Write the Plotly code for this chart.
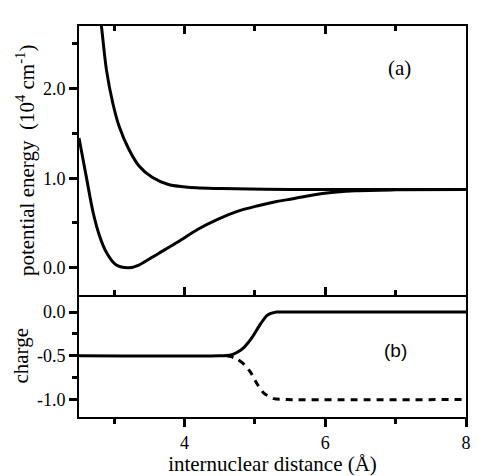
import plotly.graph_objects as go

# ---- data ----
upper_x = [2.78, 2.82, 2.89, 2.98, 3.07, 3.21, 3.35, 3.54, 3.77, 4.05, 4.52, 5.50, 8.00]
upper_y = [2.95, 2.69, 2.21, 1.84, 1.58, 1.32, 1.14, 1.01, 0.93, 0.90, 0.885, 0.875, 0.875]

lower_x = [2.50, 2.61, 2.70, 2.79, 2.89, 3.03, 3.21, 3.35, 3.63, 3.91, 4.19, 4.47, 4.75, 5.03, 5.31, 5.54, 5.96, 6.43, 7.00, 8.00]
lower_y = [1.45, 0.99, 0.62, 0.36, 0.17, 0.03, 0.00, 0.03, 0.16, 0.29, 0.43, 0.54, 0.63, 0.69, 0.74, 0.77, 0.83, 0.86, 0.87, 0.875]

charge_solid_x = [2.50, 4.50, 4.66, 4.75, 4.85, 4.96, 5.06, 5.17, 5.31, 5.50, 8.00]
charge_solid_y = [-0.50, -0.50, -0.49, -0.46, -0.40, -0.29, -0.16, -0.04, 0.00, 0.00, 0.00]

charge_dash_x = [4.60, 4.66, 4.75, 4.85, 4.94, 5.03, 5.13, 5.27, 5.45, 8.00]
charge_dash_y = [-0.50, -0.51, -0.54, -0.60, -0.69, -0.82, -0.93, -0.99, -1.00, -1.00]

yb_tickvals = [-1.0, -0.5, 0.0]
yb_ticktext = ["-1.0", "-0.5", "0.0"]

SERIF = "Liberation Serif"
SANS = "Liberation Sans"
BLACK = "rgb(0,0,0)"
LW = 3

fig = go.Figure()
fig.add_trace(go.Scatter(x=upper_x, y=upper_y, mode="lines", xaxis="x2", yaxis="y2",
                         line=dict(color=BLACK, width=LW, shape="spline", smoothing=0.8)))
fig.add_trace(go.Scatter(x=lower_x, y=lower_y, mode="lines", xaxis="x2", yaxis="y2",
                         line=dict(color=BLACK, width=LW, shape="spline", smoothing=0.8)))
fig.add_trace(go.Scatter(x=charge_dash_x, y=charge_dash_y, mode="lines", xaxis="x", yaxis="y",
                         line=dict(color=BLACK, width=LW, dash="7px,6px", shape="spline", smoothing=0.6)))
fig.add_trace(go.Scatter(x=charge_solid_x, y=charge_solid_y, mode="lines", xaxis="x", yaxis="y",
                         line=dict(color=BLACK, width=LW, shape="spline", smoothing=0.6)))

split = 0.313
tickfont = dict(family=SERIF, size=18, color=BLACK)
titlefont = dict(family=SERIF, size=21, color=BLACK)
TL, TW, ML = 8, 3, 5

fig.update_layout(
    template="simple_white",
    width=478, height=476, margin=dict(l=79, r=7, t=26, b=57),
    paper_bgcolor="white", plot_bgcolor="white", showlegend=False,
    font=dict(family=SERIF, color=BLACK),
    xaxis=dict(domain=[0, 1], anchor="y", range=[2.5, 8], showline=True, linewidth=2, linecolor=BLACK,
               mirror=False, showgrid=False, zeroline=False,
               tick0=0, dtick=2,
               ticks="outside", ticklen=TL, tickwidth=TW, tickcolor=BLACK, tickfont=tickfont,
               minor=dict(tick0=0, dtick=1, ticks="outside", ticklen=ML, tickwidth=TW, tickcolor=BLACK),
               title=dict(text="internuclear distance (Å)", font=titlefont, standoff=2)),
    xaxis2=dict(domain=[0, 1], anchor="y2", range=[2.5, 8], showline=True, linewidth=2,
                linecolor=BLACK, mirror="ticks", showgrid=False, zeroline=False,
                tick0=0, dtick=2, showticklabels=False,
                ticks="inside", ticklen=TL, tickwidth=TW, tickcolor=BLACK,
                minor=dict(tick0=0, dtick=1, ticks="inside", ticklen=ML, tickwidth=TW, tickcolor=BLACK)),
    yaxis=dict(domain=[0, split], range=[-1.2, 0.2], anchor="x", showline=True, linewidth=2,
               linecolor=BLACK, mirror=True, showgrid=False, zeroline=False,
               tickmode="array", tickvals=yb_tickvals, ticktext=yb_ticktext,
               ticks="outside", ticklen=TL, tickwidth=TW, tickcolor=BLACK, tickfont=tickfont,
               minor=dict(tick0=0, dtick=0.25, ticks="outside", ticklen=ML, tickwidth=TW, tickcolor=BLACK),
               title=dict(text="charge", font=titlefont, standoff=3)),
    yaxis2=dict(domain=[split, 1], range=[-0.3, 2.7], anchor="x2", showline=True, linewidth=2,
                linecolor=BLACK, mirror=True, showgrid=False, zeroline=False,
                tick0=0, dtick=1, tickformat=".1f",
                ticks="outside", ticklen=TL, tickwidth=TW, tickcolor=BLACK, tickfont=tickfont,
                minor=dict(tick0=0, dtick=0.5, ticks="outside", ticklen=ML, tickwidth=TW, tickcolor=BLACK),
                title=dict(text="potential energy  (10<sup>4</sup> cm<sup>-1</sup>)",
                           font=titlefont, standoff=3)),
    yaxis3=dict(overlaying="y2", side="right", anchor="x2", range=[-0.3, 2.7], showline=False,
                showgrid=False, zeroline=False, showticklabels=False,
                tick0=0, dtick=1, ticks="inside", ticklen=TL, tickwidth=TW, tickcolor=BLACK,
                minor=dict(tick0=0, dtick=0.5, ticks="inside", ticklen=ML, tickwidth=TW, tickcolor=BLACK)),
    yaxis4=dict(overlaying="y", side="right", anchor="x", range=[-1.2, 0.2], showline=False,
                showgrid=False, zeroline=False, showticklabels=False,
                tick0=0, dtick=0.5, ticks="inside", ticklen=TL, tickwidth=TW, tickcolor=BLACK,
                minor=dict(tick0=0, dtick=0.25, ticks="inside", ticklen=ML, tickwidth=TW, tickcolor=BLACK)),
    annotations=[
        dict(text="(a)", x=7.05, y=2.23, xref="x2", yref="y2", showarrow=False,
             font=dict(family=SERIF, size=21, color=BLACK)),
        dict(text="(b)", x=7.0, y=-0.44, xref="x", yref="y", showarrow=False,
             font=dict(family=SANS, size=19, color=BLACK)),
    ],
)

fig.write_html("out.html")
